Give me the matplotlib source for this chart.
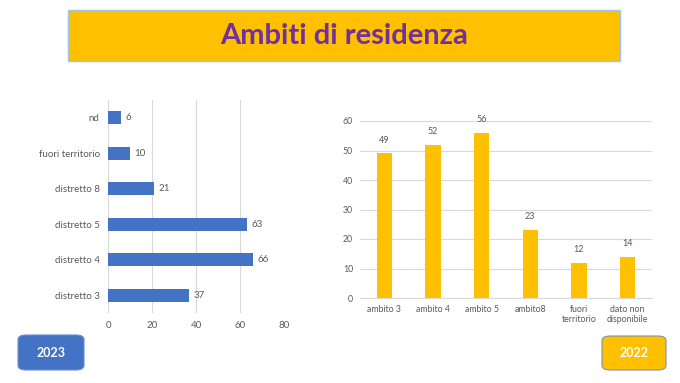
import matplotlib.pyplot as plt
from matplotlib.patches import FancyBboxPatch, Rectangle

# data
cat_2023 = ["distretto 3", "distretto 4", "distretto 5", "distretto 8", "fuori territorio", "nd"]
val_2023 = [37, 66, 63, 21, 10, 6]
cat_2022 = ["ambito 3", "ambito 4", "ambito 5", "ambito8", "fuori\nterritorio", "dato non\ndisponibile"]
val_2022 = [49, 52, 56, 23, 12, 14]

blue = "#4472C4"
gold = "#FFC000"
grey = "#595959"
grid = "#D9D9D9"

plt.rcParams['font.family'] = ['Lato', 'DejaVu Sans']

fig = plt.figure(figsize=(6.8, 3.83), dpi=100)

# title banner
fig.patches.append(Rectangle((68/680, 1-61/383), 552/680, 51/383, transform=fig.transFigure,
                             facecolor=gold, edgecolor="#9DC3E6", linewidth=1))
fig.text(344/680, 1-36/383, "Ambiti di residenza", ha="center", va="center",
         fontsize=21, fontweight="bold", color="#7030A0")

# left: 2023 horizontal bars
ax1 = fig.add_axes([108/680, 1-313/383, 176/680, 213/383])
ax1.barh(range(len(cat_2023)), val_2023, height=0.37, color=blue, zorder=3)
ax1.set_xlim(0, 80)
ax1.set_ylim(-0.5, len(cat_2023) - 0.5)
ax1.set_xticks([0, 20, 40, 60, 80])
ax1.set_yticks(range(len(cat_2023)))
ax1.set_yticklabels(cat_2023)
ax1.grid(axis="x", color=grid, linewidth=0.8, zorder=0)
for s in ax1.spines.values():
    s.set_visible(False)
ax1.tick_params(length=0, labelsize=7, colors=grey, pad=6)
for i, v in enumerate(val_2023):
    ax1.text(v + 2, i, str(v), va="center", ha="left", fontsize=7, color=grey)

# right: 2022 vertical bars
ax2 = fig.add_axes([360/680, 1-298/383, 292/680, 177/383])
ax2.bar(range(len(cat_2022)), val_2022, width=0.31, color=gold, zorder=3)
ax2.set_ylim(0, 60)
ax2.set_xlim(-0.5, len(cat_2022) - 0.5)
ax2.set_yticks(range(0, 61, 10))
ax2.set_xticks(range(len(cat_2022)))
ax2.set_xticklabels(cat_2022)
ax2.grid(axis="y", color=grid, linewidth=0.8, zorder=0)
for s in ax2.spines.values():
    s.set_visible(False)
ax2.spines["bottom"].set_visible(True)
ax2.spines["bottom"].set_color(grid)
ax2.tick_params(length=0, labelsize=6.3, colors=grey, pad=5)
for i, v in enumerate(val_2022):
    ax2.text(i, v + 3, str(v), ha="center", va="bottom", fontsize=6.5, color=grey, clip_on=False)

# year buttons
fig.patches.append(FancyBboxPatch((18/680, 1-370/383), 66/680, 35/383,
                                  boxstyle="round,pad=0,rounding_size=0.012",
                                  transform=fig.transFigure, facecolor=blue,
                                  edgecolor="#6A8FCF", linewidth=0.8))
fig.text(51/680, 1-353/383, "2023", ha="center", va="center", fontsize=9,
         fontweight="bold", color="white")
fig.patches.append(FancyBboxPatch((602/680, 1-370/383), 64/680, 34/383,
                                  boxstyle="round,pad=0,rounding_size=0.012",
                                  transform=fig.transFigure, facecolor=gold,
                                  edgecolor="#7F94A8", linewidth=0.8))
fig.text(634/680, 1-353/383, "2022", ha="center", va="center", fontsize=9,
         fontweight="bold", color="white")

fig.savefig("out.png", dpi=100)
